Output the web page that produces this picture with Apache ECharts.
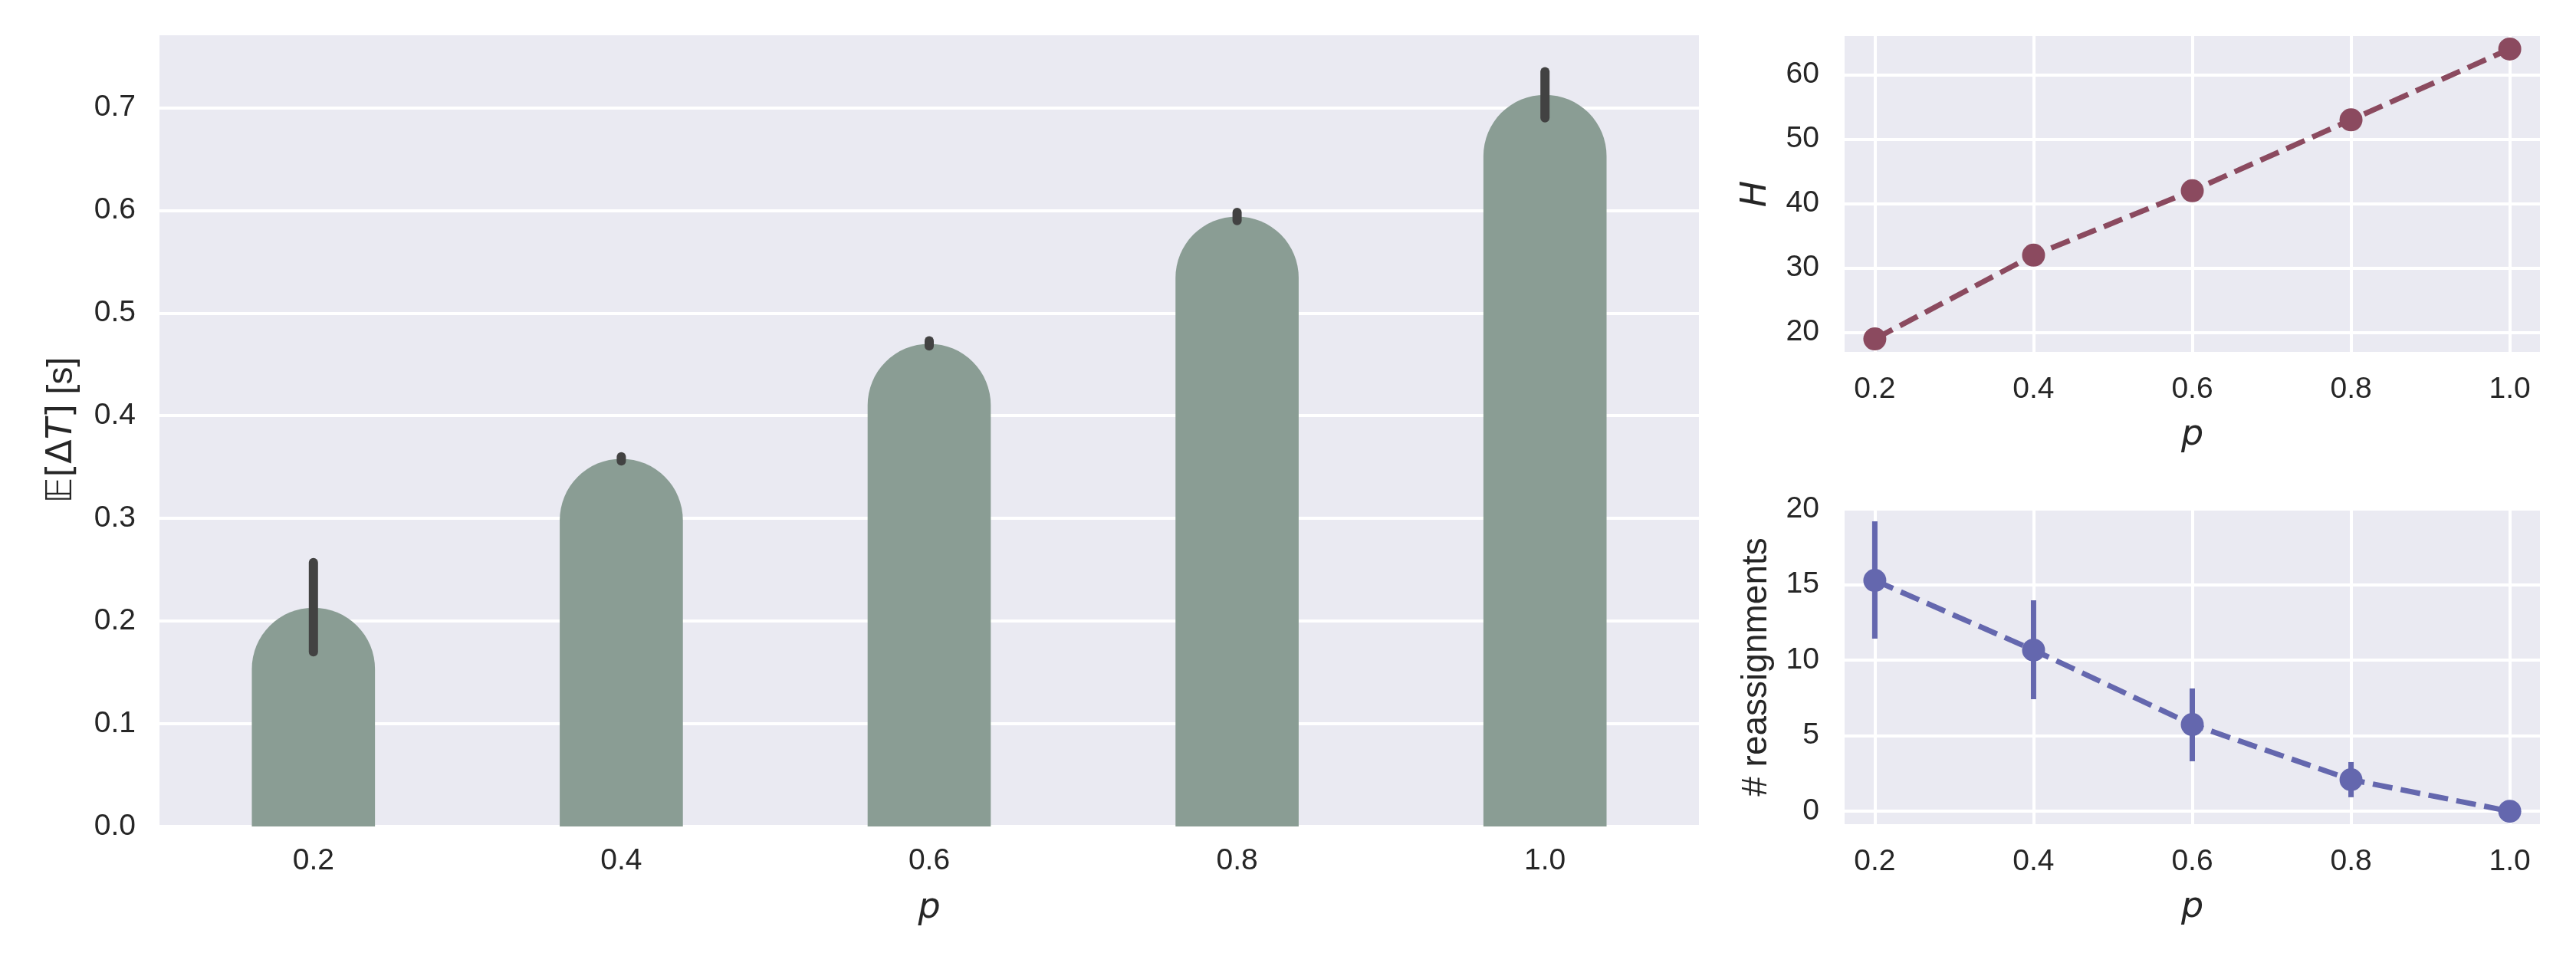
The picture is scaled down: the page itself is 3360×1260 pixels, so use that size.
<!DOCTYPE html>
<html><head><meta charset="utf-8">
<script src="https://cdn.jsdelivr.net/npm/echarts@6.0.0/dist/echarts.min.js"></script>
<style>html,body{margin:0;padding:0;background:#fff}#c{width:3360px;height:1260px}</style>
</head><body><div id="c"></div>
<script>
// ---- data ----
const pCategories = ['0.2', '0.4', '0.6', '0.8', '1.0'];
const pValues = [0.2, 0.4, 0.6, 0.8, 1.0];
const meanDelay = [0.213, 0.358, 0.470, 0.594, 0.7125];
const delayLow = [0.170, 0.356, 0.468, 0.590, 0.690];
const delayHigh = [0.257, 0.360, 0.473, 0.598, 0.735];
const hValues = [19, 32, 42, 53, 64];
const reassignMean = [15.28, 10.67, 5.74, 2.09, 0];
const reassignLow = [11.43, 7.42, 3.31, 0.93, 0];
const reassignHigh = [19.19, 13.97, 8.13, 3.26, 0];

const TXT = '#262626';
const BG = '#EAEAF2';
const tickFont = {fontFamily: 'Liberation Sans', fontSize: 39, color: TXT};
const mathName = {fontFamily: 'DejaVu Sans', fontStyle: 'italic', fontSize: 46, color: TXT};
const gridLine = {show: true, lineStyle: {color: '#ffffff', width: 4}};

const chart = echarts.init(document.getElementById('c'), null, {renderer: 'canvas'});

function errRender(width, color, cap) {
  return function (params, api) {
    const a = api.coord([api.value(0), api.value(1)]);
    const b = api.coord([api.value(0), api.value(2)]);
    return {type: 'line', shape: {x1: a[0], y1: a[1], x2: b[0], y2: b[1]},
      style: {stroke: color, lineWidth: width, lineCap: cap}};
  };
}

const option = {
  animation: false,
  backgroundColor: '#ffffff',
  grid: [
    {left: 208, top: 44, width: 2008, height: 1034, show: true, backgroundColor: BG, borderWidth: 0, containLabel: false, outerBoundsMode: 'none'},
    {left: 2404, top: 45, width: 911, height: 416, show: true, backgroundColor: BG, borderWidth: 0, containLabel: false, outerBoundsMode: 'none'},
    {left: 2404, top: 663, width: 911, height: 414, show: true, backgroundColor: BG, borderWidth: 0, containLabel: false, outerBoundsMode: 'none'}
  ],
  xAxis: [
    {type: 'category', gridIndex: 0, data: pCategories, boundaryGap: true,
     axisLine: {show: false}, axisTick: {show: false}, splitLine: {show: false},
     axisLabel: Object.assign({margin: 26}, tickFont),
     name: 'p', nameLocation: 'middle', nameGap: 84, nameTextStyle: mathName},
    {type: 'value', gridIndex: 1, min: 0.16, max: 1.04, splitNumber: 4,
     axisLine: {show: false}, axisTick: {show: false}, splitLine: gridLine,
     axisLabel: Object.assign({margin: 28, showMinLabel: false, showMaxLabel: false,
       formatter: v => v.toFixed(1)}, tickFont),
     name: 'p', nameLocation: 'middle', nameGap: 84, nameTextStyle: mathName},
    {type: 'value', gridIndex: 2, min: 0.16, max: 1.04, splitNumber: 4,
     axisLine: {show: false}, axisTick: {show: false}, splitLine: gridLine,
     axisLabel: Object.assign({margin: 28, showMinLabel: false, showMaxLabel: false,
       formatter: v => v.toFixed(1)}, tickFont),
     name: 'p', nameLocation: 'middle', nameGap: 84, nameTextStyle: mathName}
  ],
  yAxis: [
    {type: 'value', gridIndex: 0, min: 0, max: 0.772, interval: 0.1,
     axisLine: {show: false}, axisTick: {show: false}, splitLine: gridLine,
     axisLabel: Object.assign({margin: 31, showMaxLabel: false, formatter: v => v.toFixed(1)}, tickFont),
     name: '{e|𝔼}{m|[Δ}{i|T}{m|]} [s]', nameLocation: 'middle', nameGap: 104,
     nameTextStyle: {fontFamily: 'Liberation Sans', fontSize: 46, color: TXT,
       rich: {e: {fontFamily: 'DejaVu Sans', fontStyle: 'italic', fontSize: 46, color: TXT},
              m: {fontFamily: 'DejaVu Sans', fontSize: 46, color: TXT},
              i: {fontFamily: 'DejaVu Sans', fontStyle: 'italic', fontSize: 46, color: TXT}}}},
    {type: 'value', gridIndex: 1, min: 16.75, max: 66.25, splitNumber: 5,
     axisLine: {show: false}, axisTick: {show: false}, splitLine: gridLine,
     axisLabel: Object.assign({margin: 31, showMinLabel: false, showMaxLabel: false}, tickFont),
     name: 'H', nameLocation: 'middle', nameGap: 90, nameTextStyle: mathName},
    {type: 'value', gridIndex: 2, min: -0.955, max: 20.055, splitNumber: 5,
     axisLine: {show: false}, axisTick: {show: false}, splitLine: gridLine,
     axisLabel: Object.assign({margin: 31, showMinLabel: false, showMaxLabel: false}, tickFont),
     name: '# reassignments', nameLocation: 'middle', nameGap: 90,
     nameTextStyle: {fontFamily: 'Liberation Sans', fontSize: 46, color: TXT}}
  ],
  series: [
    {type: 'bar', xAxisIndex: 0, yAxisIndex: 0, data: meanDelay, barWidth: '40%',
     itemStyle: {color: '#8A9D94', borderRadius: [80, 80, 0, 0]}},
    {type: 'custom', xAxisIndex: 0, yAxisIndex: 0, z: 5,
     data: pCategories.map((c, i) => [i, delayLow[i], delayHigh[i]]),
     renderItem: errRender(12, '#424242', 'round')},
    {type: 'line', xAxisIndex: 1, yAxisIndex: 1,
     data: pValues.map((p, i) => [p, hValues[i]]),
     symbol: 'circle', symbolSize: 30,
     lineStyle: {color: '#8B4A5F', width: 7, type: [26, 11]},
     itemStyle: {color: '#8B4A5F'}},
    {type: 'custom', xAxisIndex: 2, yAxisIndex: 2, z: 3,
     data: pValues.map((p, i) => [p, reassignLow[i], reassignHigh[i]]),
     renderItem: errRender(7, '#6467AE', 'butt')},
    {type: 'line', xAxisIndex: 2, yAxisIndex: 2,
     data: pValues.map((p, i) => [p, reassignMean[i]]),
     symbol: 'circle', symbolSize: 30, z: 4,
     lineStyle: {color: '#6467AE', width: 7, type: [26, 11]},
     itemStyle: {color: '#6467AE'}}
  ]
};
chart.setOption(option);
</script>
</body></html>
